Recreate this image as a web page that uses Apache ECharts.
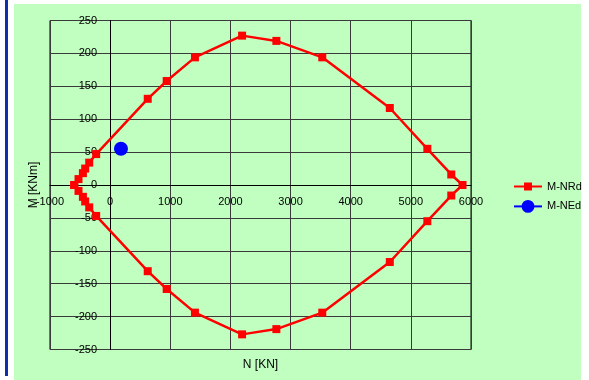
<!DOCTYPE html>
<html>
<head>
<meta charset="utf-8">
<script src="https://cdn.jsdelivr.net/npm/echarts@6/dist/echarts.min.js"></script>
<style>
   html, body { margin: 0; padding: 0; background: #fff; }
   #chart { width: 589px; height: 380px; }
</style>
</head>
<body>
<div id="chart"></div>
<script>
// interaction curve M-NRd (closed loop), N in KN, M in KNm
var nrdN = [-597, -526, -453, -415, -348, -232, 625, 940, 1410, 2194, 2764, 3527, 4650, 5274, 5672, 5859,
            5672, 5274, 4650, 3527, 2764, 2194, 1410, 940, 625, -232, -348, -415, -453, -526, -597];
var nrdM = [0, 9, 18, 25, 34, 47, 131, 158, 194, 227, 219, 194, 117, 55, 16, 0,
            -16, -55, -117, -194, -219, -227, -194, -158, -131, -47, -34, -25, -18, -9, 0];
// design load point M-NEd
var nedN = [180];
var nedM = [55];

var seriesNames = ['M-NRd', 'M-NEd'];

var pairs = function(xs, ys) {
   var out = [];
   for(var i = 0; i < xs.length; i++) {
      out.push([xs[i], ys[i]]);
   }
   return out;
};

var plain = function(v) {
   return String(v);
};

var bg = '#c0ffc0';
var font = 'Liberation Sans, Arial, sans-serif';

// axes cross at zero: move them in from the grid edges
// plot is 421 x 329 px, x -1000..6000, y -250..250
var xAxisShift = -164.5;
var yAxisShift = -60.1;

var legendText = { fontSize: 11, color: '#000', fontFamily: font };

var chart = echarts.init(document.getElementById('chart'));

var option = {
   backgroundColor: '#ffffff',
   animation: false,
   textStyle: { fontFamily: font },
   graphic: [
      { type: 'rect', z: -10, shape: { x: 14, y: 4, width: 567, height: 376 }, style: { fill: bg } },
      { type: 'rect', z: -10, shape: { x: 5, y: 0, width: 3, height: 376 }, style: { fill: '#1030a8' } }
   ],
   grid: {
      left: 50,
      top: 20.5,
      right: 118,
      bottom: 30.5,
      containLabel: false,
      outerBoundsMode: 'none',
      show: true,
      backgroundColor: bg,
      borderColor: '#000',
      borderWidth: 1
   },
   // one legend per series so each marker gets its own size
   legend: [{
      left: 508,
      top: 176,
      itemWidth: 28,
      itemHeight: 10,
      textStyle: legendText,
      data: [seriesNames[0]]
   }, {
      left: 508,
      top: 195,
      itemWidth: 28,
      itemHeight: 16,
      textStyle: legendText,
      data: [seriesNames[1]]
   }],
   xAxis: {
      type: 'value',
      position: 'bottom',
      offset: xAxisShift,
      min: -1000,
      max: 6000,
      interval: 1000,
      name: 'N [KN]',
      nameLocation: 'middle',
      nameGap: 174,
      nameTextStyle: { fontSize: 12, color: '#000' },
      axisLine: { onZero: false, lineStyle: { color: '#000', width: 1 } },
      axisTick: { show: false },
      axisLabel: { fontSize: 11, color: '#000', margin: 11, formatter: plain },
      splitLine: { show: true, lineStyle: { color: '#3a3a3a', width: 1 } }
   },
   yAxis: {
      type: 'value',
      position: 'left',
      offset: yAxisShift,
      min: -250,
      max: 250,
      interval: 50,
      name: 'M [KNm]',
      nameLocation: 'middle',
      nameGap: 70,
      nameRotate: 90,
      nameTextStyle: { fontSize: 12, color: '#000' },
      axisLine: { onZero: false, lineStyle: { color: '#000', width: 1 } },
      axisTick: { show: false },
      axisLabel: { fontSize: 11, color: '#000', margin: 13, formatter: plain },
      splitLine: { show: true, lineStyle: { color: '#3a3a3a', width: 1 } }
   },
   series: [{
      name: seriesNames[0],
      type: 'line',
      data: pairs(nrdN, nrdM),
      symbol: 'rect',
      symbolSize: 8,
      color: '#ff0000',
      lineStyle: { color: '#ff0000', width: 2.5 },
      itemStyle: { color: '#ff0000' }
   }, {
      name: seriesNames[1],
      type: 'line',
      data: pairs(nedN, nedM),
      symbol: 'circle',
      symbolSize: 14,
      color: '#0000ff',
      lineStyle: { color: '#0000ff', width: 2 },
      itemStyle: { color: '#0000ff' }
   }]
};

chart.setOption(option);
</script>
</body>
</html>
